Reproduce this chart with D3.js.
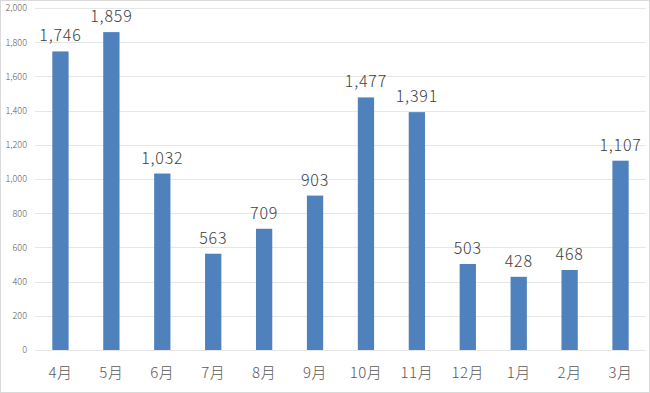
<!DOCTYPE html>
<html><head><meta charset="utf-8">
<script src="https://cdn.jsdelivr.net/npm/d3@7"></script>
<style>body{margin:0;background:#fff}svg{display:block}</style>
</head><body>
<script>
const categories = ["4月","5月","6月","7月","8月","9月","10月","11月","12月","1月","2月","3月"];
const values = [1746,1859,1032,563,709,903,1477,1391,503,428,468,1107];
const yTicks = [0,200,400,600,800,1000,1200,1400,1600,1800,2000];

const W=650,H=393;
const svg=d3.select("body").append("svg").attr("width",W).attr("height",H);
svg.append("rect").attr("x",0.5).attr("y",0.5).attr("width",W-1).attr("height",H-1)
  .attr("fill","#fff").attr("stroke","#d9d9d9");
const font='"Noto Sans CJK JP","Noto Sans",sans-serif';
const x=d3.scaleBand().domain(categories).range([35,646]).paddingInner(0.68).paddingOuter(0.34);
const y=d3.scaleLinear().domain([0,2000]).range([350,8]);

const grid=svg.append("g");
grid.selectAll("line").data(yTicks).join("line")
  .attr("x1",35).attr("x2",646).attr("y1",d=>Math.round(y(d))+0.5).attr("y2",d=>Math.round(y(d))+0.5)
  .attr("stroke","#e6e6e6").attr("stroke-width",1);

const yAxis=d3.axisLeft(y).tickValues(yTicks).tickFormat(d3.format(",")).tickSize(0).tickPadding(8);
const ga=svg.append("g").attr("transform","translate(35,0)").call(yAxis);
ga.select(".domain").remove();
ga.selectAll("text").attr("font-family",font).attr("font-weight",300).attr("font-size",9).attr("fill","#595959");

const xAxis=d3.axisBottom(x).tickSize(0).tickPadding(17);
const gx=svg.append("g").attr("transform","translate(0,350)").call(xAxis);
gx.select(".domain").remove();
gx.selectAll("text").attr("font-family",font).attr("font-weight",300).attr("font-size",15)
  .attr("letter-spacing","0.5px").attr("fill","#595959");

svg.append("g").selectAll("rect").data(values).join("rect")
  .attr("x",(d,i)=>x(categories[i])).attr("width",x.bandwidth())
  .attr("y",d=>y(d)).attr("height",d=>y(0)-y(d)).attr("fill","#4f81bd");

svg.append("g").selectAll("text").data(values).join("text")
  .attr("x",(d,i)=>x(categories[i])+x.bandwidth()/2).attr("y",d=>y(d)-10)
  .attr("text-anchor","middle").attr("font-family",font).attr("font-weight",300).attr("font-size",16)
  .attr("letter-spacing","0.8px").attr("fill","#404040")
  .text(d=>d3.format(",")(d));
</script>
</body></html>
